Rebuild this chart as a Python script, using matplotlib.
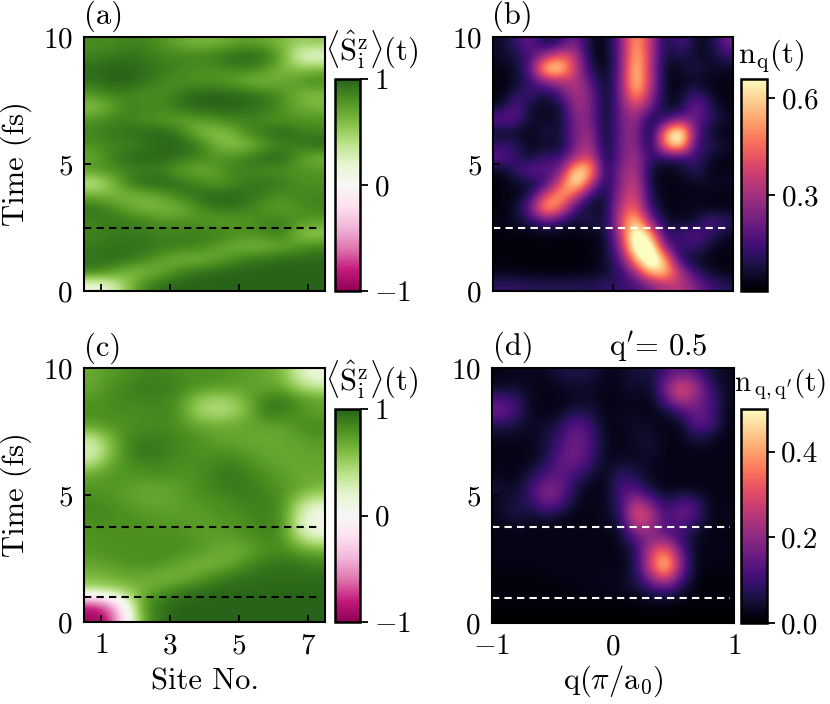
import matplotlib
matplotlib.use("Agg")
import matplotlib.pyplot as plt
import numpy as np

plt.rcParams['font.family'] = 'serif'
plt.rcParams['font.serif'] = ['cmr10']
plt.rcParams['mathtext.fontset'] = 'cm'
plt.rcParams['axes.formatter.use_mathtext'] = True

# rows listed from t = 10 (top) down to t = 0 (bottom), step 0.5 fs
# (a) <S_i^z>(t), half-site columns from site 0.5 to 7.5
sz_a = [
    [0.82, 0.82, 0.86, 0.86, 0.78, 0.68, 0.62, 0.62, 0.68, 0.74, 0.68, 0.60, 0.50, 0.55],
    [0.86, 0.90, 0.94, 0.90, 0.86, 0.86, 0.86, 0.90, 0.98, 1.00, 0.96, 0.68, 0.20, 0.10],
    [0.96, 1.00, 1.00, 0.96, 0.90, 0.86, 0.80, 0.80, 0.86, 0.86, 0.78, 0.60, 0.55, 0.60],
    [0.94, 1.00, 1.00, 0.94, 0.86, 0.80, 0.80, 0.78, 0.72, 0.62, 0.60, 0.68, 0.80, 0.86],
    [0.78, 0.86, 0.86, 0.80, 0.80, 0.90, 0.98, 1.00, 1.00, 0.96, 0.90, 0.80, 0.62, 0.58],
    [0.55, 0.68, 0.86, 0.86, 0.86, 0.94, 1.00, 1.00, 1.00, 0.96, 0.94, 0.80, 0.68, 0.62],
    [0.78, 0.86, 0.86, 0.80, 0.74, 0.70, 0.74, 0.80, 0.86, 0.86, 0.80, 0.78, 0.78, 0.78],
    [0.86, 0.90, 0.94, 0.98, 1.00, 0.90, 0.62, 0.55, 0.62, 0.86, 0.94, 1.00, 0.90, 0.86],
    [0.80, 0.86, 0.86, 0.90, 0.96, 1.00, 0.94, 0.68, 0.55, 0.58, 0.74, 0.86, 0.90, 1.00],
    [0.68, 0.86, 0.96, 1.00, 1.00, 0.94, 0.86, 0.80, 0.80, 0.90, 1.00, 0.98, 0.74, 0.62],
    [0.78, 0.80, 0.86, 0.86, 0.86, 0.72, 0.66, 0.72, 0.86, 0.86, 0.80, 0.80, 0.78, 0.78],
    [0.30, 0.55, 0.86, 1.00, 1.00, 0.96, 0.86, 0.76, 0.80, 0.90, 0.94, 0.90, 0.80, 0.80],
    [0.68, 0.62, 0.60, 0.62, 0.72, 0.86, 0.96, 1.00, 1.00, 0.96, 0.86, 0.80, 0.86, 0.86],
    [0.94, 0.86, 0.72, 0.62, 0.60, 0.62, 0.78, 0.90, 0.94, 0.86, 0.78, 0.72, 0.80, 0.86],
    [0.86, 0.90, 0.90, 0.86, 0.80, 0.80, 0.78, 0.72, 0.72, 0.78, 0.86, 0.86, 0.80, 0.74],
    [0.86, 0.90, 0.90, 0.90, 0.86, 0.86, 0.90, 0.90, 0.86, 0.80, 0.86, 0.90, 0.55, 0.50],
    [0.90, 0.94, 0.94, 0.94, 0.90, 0.90, 0.86, 0.76, 0.66, 0.62, 0.62, 0.68, 0.78, 0.86],
    [0.94, 0.96, 0.94, 0.86, 0.72, 0.62, 0.62, 0.68, 0.80, 0.90, 0.94, 0.98, 0.98, 0.98],
    [0.90, 0.78, 0.60, 0.58, 0.68, 0.86, 0.94, 0.98, 1.00, 1.00, 1.00, 1.00, 1.00, 1.00],
    [0.10, 0.20, 0.55, 0.86, 0.96, 1.00, 1.00, 1.00, 1.00, 1.00, 1.00, 1.00, 1.00, 1.00],
]

# (b) n_q(t), columns from q = -1 to 1
nq_b = [
    [0.05, 0.12, 0.22, 0.05, 0.12, 0.25, 0.05, 0.02, 0.22, 0.58, 0.34, 0.05, 0.18, 0.05, 0.05, 0.22],
    [0.05, 0.08, 0.15, 0.30, 0.45, 0.35, 0.05, 0.02, 0.20, 0.62, 0.34, 0.05, 0.10, 0.05, 0.05, 0.12],
    [0.03, 0.05, 0.18, 0.66, 0.66, 0.35, 0.10, 0.02, 0.20, 0.66, 0.32, 0.03, 0.05, 0.10, 0.05, 0.05],
    [0.02, 0.05, 0.12, 0.25, 0.30, 0.35, 0.18, 0.02, 0.22, 0.66, 0.34, 0.03, 0.03, 0.05, 0.03, 0.03],
    [0.02, 0.10, 0.15, 0.05, 0.18, 0.32, 0.25, 0.02, 0.22, 0.58, 0.30, 0.03, 0.05, 0.15, 0.05, 0.02],
    [0.05, 0.20, 0.05, 0.05, 0.05, 0.30, 0.25, 0.02, 0.22, 0.40, 0.22, 0.05, 0.05, 0.25, 0.10, 0.03],
    [0.20, 0.18, 0.05, 0.05, 0.05, 0.26, 0.26, 0.02, 0.22, 0.30, 0.05, 0.12, 0.25, 0.20, 0.12, 0.05],
    [0.05, 0.05, 0.03, 0.10, 0.05, 0.24, 0.30, 0.02, 0.22, 0.30, 0.00, 0.55, 0.80, 0.18, 0.05, 0.03],
    [0.12, 0.12, 0.03, 0.05, 0.05, 0.24, 0.34, 0.02, 0.22, 0.30, 0.00, 0.55, 0.70, 0.12, 0.12, 0.05],
    [0.20, 0.12, 0.05, 0.15, 0.12, 0.30, 0.42, 0.03, 0.22, 0.32, 0.12, 0.10, 0.10, 0.15, 0.05, 0.03],
    [0.03, 0.12, 0.22, 0.18, 0.20, 0.66, 0.60, 0.05, 0.26, 0.34, 0.05, 0.03, 0.05, 0.12, 0.03, 0.03],
    [0.02, 0.05, 0.05, 0.12, 0.40, 0.72, 0.38, 0.05, 0.26, 0.40, 0.05, 0.03, 0.03, 0.05, 0.05, 0.05],
    [0.02, 0.03, 0.10, 0.40, 0.58, 0.38, 0.10, 0.05, 0.30, 0.42, 0.08, 0.03, 0.03, 0.03, 0.03, 0.03],
    [0.02, 0.05, 0.22, 0.60, 0.45, 0.12, 0.05, 0.05, 0.35, 0.48, 0.12, 0.03, 0.03, 0.05, 0.03, 0.03],
    [0.03, 0.05, 0.10, 0.18, 0.12, 0.05, 0.12, 0.05, 0.38, 0.65, 0.25, 0.05, 0.05, 0.05, 0.18, 0.12],
    [0.02, 0.02, 0.02, 0.03, 0.02, 0.02, 0.03, 0.05, 0.32, 0.80, 0.55, 0.08, 0.15, 0.18, 0.12, 0.05],
    [0.02, 0.02, 0.02, 0.02, 0.02, 0.02, 0.02, 0.05, 0.25, 0.78, 0.78, 0.20, 0.10, 0.15, 0.05, 0.03],
    [0.02, 0.02, 0.02, 0.02, 0.02, 0.02, 0.02, 0.05, 0.18, 0.55, 0.85, 0.55, 0.08, 0.05, 0.03, 0.02],
    [0.03, 0.03, 0.02, 0.02, 0.02, 0.02, 0.03, 0.05, 0.12, 0.28, 0.60, 0.62, 0.32, 0.12, 0.05, 0.03],
    [0.12, 0.12, 0.10, 0.10, 0.10, 0.10, 0.10, 0.12, 0.12, 0.15, 0.22, 0.32, 0.34, 0.24, 0.15, 0.10],
]

# (c) <S_i^z>(t), second case
sz_c = [
    [0.68, 0.76, 0.80, 0.86, 0.86, 0.82, 0.80, 0.80, 0.78, 0.74, 0.70, 0.60, 0.25, 0.10],
    [0.70, 0.80, 0.86, 0.90, 0.90, 0.86, 0.80, 0.76, 0.74, 0.72, 0.72, 0.68, 0.45, 0.35],
    [0.78, 0.82, 0.86, 0.86, 0.86, 0.80, 0.55, 0.45, 0.48, 0.68, 0.86, 0.92, 0.80, 0.72],
    [0.80, 0.82, 0.82, 0.82, 0.86, 0.78, 0.50, 0.40, 0.45, 0.62, 0.92, 0.88, 0.78, 0.72],
    [0.74, 0.78, 0.80, 0.82, 0.84, 0.80, 0.70, 0.66, 0.68, 0.72, 0.72, 0.72, 0.82, 0.84],
    [0.35, 0.62, 0.84, 0.88, 0.88, 0.84, 0.80, 0.74, 0.70, 0.68, 0.68, 0.70, 0.74, 0.78],
    [0.22, 0.55, 0.86, 0.94, 0.90, 0.84, 0.80, 0.78, 0.78, 0.74, 0.70, 0.70, 0.70, 0.74],
    [0.40, 0.68, 0.80, 0.86, 0.86, 0.82, 0.82, 0.84, 0.88, 0.80, 0.74, 0.70, 0.70, 0.70],
    [0.72, 0.78, 0.78, 0.78, 0.80, 0.78, 0.80, 0.88, 0.92, 0.88, 0.80, 0.74, 0.68, 0.68],
    [0.76, 0.78, 0.74, 0.70, 0.70, 0.74, 0.80, 0.86, 0.90, 0.90, 0.84, 0.78, 0.70, 0.60],
    [0.84, 0.80, 0.74, 0.70, 0.70, 0.74, 0.78, 0.80, 0.84, 0.88, 0.88, 0.80, 0.45, 0.30],
    [0.84, 0.84, 0.80, 0.78, 0.74, 0.74, 0.74, 0.78, 0.80, 0.84, 0.88, 0.80, 0.30, 0.05],
    [0.80, 0.80, 0.80, 0.78, 0.78, 0.78, 0.74, 0.74, 0.78, 0.80, 0.88, 0.80, 0.25, 0.05],
    [0.78, 0.80, 0.80, 0.82, 0.82, 0.80, 0.78, 0.74, 0.74, 0.78, 0.84, 0.80, 0.45, 0.30],
    [0.78, 0.80, 0.80, 0.80, 0.82, 0.80, 0.76, 0.70, 0.64, 0.70, 0.80, 0.84, 0.76, 0.70],
    [0.70, 0.74, 0.78, 0.80, 0.78, 0.70, 0.64, 0.62, 0.72, 0.84, 0.92, 0.94, 0.92, 0.88],
    [0.60, 0.64, 0.70, 0.68, 0.62, 0.62, 0.72, 0.84, 0.92, 0.94, 0.96, 0.96, 0.96, 0.96],
    [0.42, 0.45, 0.52, 0.64, 0.76, 0.88, 0.94, 0.96, 0.98, 0.98, 0.98, 0.98, 0.98, 0.98],
    [-0.70, -0.50, 0.15, 0.80, 0.94, 0.98, 1.00, 1.00, 1.00, 1.00, 1.00, 1.00, 1.00, 1.00],
    [-0.95, -0.80, -0.05, 0.75, 0.94, 1.00, 1.00, 1.00, 1.00, 1.00, 1.00, 1.00, 1.00, 1.00],
]

# (d) n_{q,q'}(t) at q' = 0.5
nqq_d = [
    [0.02, 0.03, 0.03, 0.03, 0.06, 0.07, 0.06, 0.03, 0.03, 0.06, 0.05, 0.12, 0.15, 0.12, 0.05, 0.03],
    [0.03, 0.04, 0.03, 0.02, 0.03, 0.04, 0.04, 0.02, 0.03, 0.05, 0.03, 0.18, 0.32, 0.24, 0.08, 0.03],
    [0.12, 0.10, 0.03, 0.02, 0.02, 0.03, 0.04, 0.02, 0.02, 0.03, 0.02, 0.14, 0.28, 0.18, 0.12, 0.03],
    [0.17, 0.12, 0.03, 0.02, 0.03, 0.07, 0.06, 0.02, 0.03, 0.03, 0.02, 0.04, 0.10, 0.17, 0.12, 0.02],
    [0.07, 0.06, 0.03, 0.04, 0.07, 0.15, 0.10, 0.02, 0.03, 0.04, 0.03, 0.02, 0.03, 0.15, 0.12, 0.02],
    [0.03, 0.03, 0.03, 0.05, 0.10, 0.17, 0.12, 0.03, 0.02, 0.04, 0.05, 0.02, 0.02, 0.07, 0.04, 0.02],
    [0.02, 0.02, 0.02, 0.05, 0.12, 0.18, 0.12, 0.03, 0.02, 0.03, 0.05, 0.02, 0.02, 0.03, 0.02, 0.02],
    [0.02, 0.02, 0.03, 0.07, 0.15, 0.16, 0.10, 0.02, 0.05, 0.04, 0.03, 0.02, 0.02, 0.02, 0.02, 0.02],
    [0.03, 0.02, 0.06, 0.12, 0.15, 0.10, 0.05, 0.02, 0.10, 0.07, 0.03, 0.02, 0.02, 0.02, 0.02, 0.02],
    [0.05, 0.03, 0.10, 0.19, 0.17, 0.06, 0.02, 0.02, 0.12, 0.12, 0.05, 0.02, 0.03, 0.02, 0.02, 0.02],
    [0.03, 0.06, 0.07, 0.18, 0.14, 0.04, 0.02, 0.03, 0.10, 0.25, 0.15, 0.06, 0.12, 0.10, 0.02, 0.02],
    [0.03, 0.07, 0.05, 0.07, 0.05, 0.02, 0.02, 0.03, 0.07, 0.34, 0.26, 0.10, 0.18, 0.12, 0.02, 0.03],
    [0.02, 0.03, 0.02, 0.02, 0.02, 0.02, 0.02, 0.02, 0.05, 0.25, 0.22, 0.10, 0.12, 0.06, 0.02, 0.02],
    [0.02, 0.02, 0.02, 0.02, 0.02, 0.02, 0.02, 0.02, 0.03, 0.12, 0.20, 0.20, 0.10, 0.03, 0.02, 0.02],
    [0.02, 0.02, 0.02, 0.02, 0.02, 0.02, 0.02, 0.02, 0.02, 0.07, 0.28, 0.40, 0.15, 0.02, 0.02, 0.02],
    [0.02, 0.02, 0.02, 0.02, 0.02, 0.02, 0.02, 0.02, 0.02, 0.06, 0.30, 0.50, 0.18, 0.02, 0.02, 0.02],
    [0.01, 0.01, 0.01, 0.02, 0.02, 0.02, 0.02, 0.03, 0.03, 0.06, 0.20, 0.32, 0.12, 0.02, 0.01, 0.01],
    [0.01, 0.01, 0.01, 0.01, 0.01, 0.02, 0.02, 0.02, 0.03, 0.04, 0.07, 0.10, 0.05, 0.01, 0.01, 0.01],
    [0.01, 0.01, 0.01, 0.01, 0.01, 0.01, 0.01, 0.01, 0.01, 0.01, 0.02, 0.02, 0.01, 0.01, 0.01, 0.01],
    [0.00, 0.00, 0.00, 0.00, 0.00, 0.00, 0.00, 0.00, 0.00, 0.00, 0.00, 0.00, 0.00, 0.00, 0.00, 0.00],
]

cuts_a = [2.5]
cuts_c = [3.75, 1.0]
site_ticks = [1, 3, 5, 7]
q_ticks = [-1, 0, 1]
t_ticks = [0, 5, 10]

W, H = 830, 704
fig = plt.figure(figsize=(W / 100, H / 100), dpi=100)

def box(x0, x1, y0, y1):
    return [x0 / W, 1 - y1 / H, (x1 - x0) / W, (y1 - y0) / H]

ax_a = fig.add_axes(box(84, 325, 37, 291))
ax_b = fig.add_axes(box(493, 733, 37, 291))
ax_c = fig.add_axes(box(84, 325, 368, 622))
ax_d = fig.add_axes(box(492, 734, 368, 623))
cb_a = fig.add_axes(box(335, 360, 79, 291))
cb_b = fig.add_axes(box(741, 767, 79, 291))
cb_c = fig.add_axes(box(335, 360, 409, 622))
cb_d = fig.add_axes(box(741, 767, 409, 623))

fs_tick = 21
fs_lab = 22

def style(ax):
    ax.tick_params(direction='in', length=5, width=1.3, labelsize=fs_tick, pad=8,
                   top=False, right=False)
    for s in ax.spines.values():
        s.set_linewidth(1.5)
    ax.set_yticks(t_ticks)

im_a = ax_a.imshow(np.array(sz_a), cmap='PiYG', vmin=-1, vmax=1, aspect='auto',
                   extent=[0.5, 7.5, 0, 10], interpolation='bicubic')
im_b = ax_b.imshow(np.array(nq_b), cmap='magma', vmin=0.003, vmax=0.66, aspect='auto',
                   extent=[-1, 1, 0, 10], interpolation='bicubic')
im_c = ax_c.imshow(np.array(sz_c), cmap='PiYG', vmin=-1, vmax=1, aspect='auto',
                   extent=[0.5, 7.5, 0, 10], interpolation='bicubic')
im_d = ax_d.imshow(np.array(nqq_d), cmap='magma', vmin=0, vmax=0.5, aspect='auto',
                   extent=[-1, 1, 0, 10], interpolation='bicubic')

for ax in [ax_a, ax_b, ax_c, ax_d]:
    style(ax)
for ax in [ax_a, ax_c]:
    ax.set_xticks(site_ticks)
    ax.set_ylabel('Time (fs)', fontsize=fs_lab, labelpad=8)
for ax in [ax_b, ax_d]:
    ax.set_xticks(q_ticks)
ax_a.set_xticklabels([])
ax_b.set_xticklabels([])
ax_c.set_xlabel('Site No.', fontsize=fs_lab, labelpad=6)
ax_d.set_xlabel(r'$\mathrm{q}(\pi/\mathrm{a}_0)$', fontsize=fs_lab, labelpad=2)

dash = (0, (3.5, 2.5))
for t in cuts_a:
    ax_a.axhline(t, xmax=0.985, color='black', lw=1.5, ls=dash)
    ax_b.axhline(t, xmax=0.985, color='white', lw=1.5, ls=dash)
for t in cuts_c:
    ax_c.axhline(t, xmax=0.985, color='black', lw=1.5, ls=dash)
    ax_d.axhline(t, xmax=0.985, color='white', lw=1.5, ls=dash)

for im, cax, ticks in [(im_a, cb_a, [-1, 0, 1]), (im_b, cb_b, [0.3, 0.6]),
                       (im_c, cb_c, [-1, 0, 1]), (im_d, cb_d, [0.0, 0.2, 0.4])]:
    cb = fig.colorbar(im, cax=cax, ticks=ticks)
    cb.outline.set_linewidth(1.8)
    cax.tick_params(direction='out', length=6, width=1.3, labelsize=fs_tick, pad=4)
cb_d.set_yticklabels(['0.0', '0.2', '0.4'])

sz_label = r'$\langle\hat{\mathrm{S}}_\mathrm{i}^\mathrm{z}\rangle(\mathrm{t})$'
fig.text(372 / W, 1 - 50 / H, sz_label, fontsize=fs_lab, ha='center', va='center')
fig.text(372 / W, 1 - 380 / H, sz_label, fontsize=fs_lab, ha='center', va='center')
fig.text(771 / W, 1 - 56 / H, r'$\mathrm{n_q(t)}$', fontsize=fs_lab, ha='center', va='center')
fig.text(826 / W, 1 - 385 / H, r"$\mathrm{n}_{\,\mathrm{q,q}'}(\mathrm{t})$", fontsize=fs_lab - 1,
         ha='right', va='center')
fig.text(658 / W, 1 - 347 / H, r"$\mathrm{q}'$= 0.5", fontsize=fs_lab, ha='center', va='center')

for lab, x, y in [('(a)', 104, 16), ('(b)', 512, 16), ('(c)', 103, 348), ('(d)', 513, 347)]:
    fig.text(x / W, 1 - y / H, lab, fontsize=fs_lab, ha='center', va='center')

fig.savefig('out.png', dpi=100)
